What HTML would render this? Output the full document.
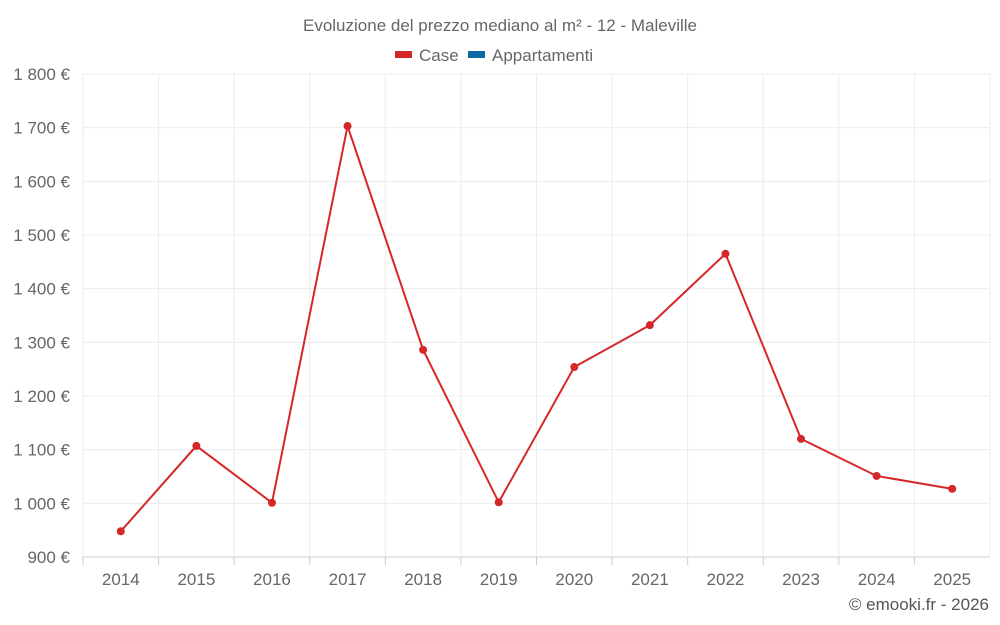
<!DOCTYPE html>
<html><head><meta charset="utf-8">
<style>
html,body{margin:0;padding:0;background:#fff;}
svg{display:block;font-family:"Liberation Sans",sans-serif;}
</style></head>
<body>
<svg id="chart" width="1000" height="625" viewBox="0 0 1000 625">
<text x="500" y="31" text-anchor="middle" font-size="17" fill="#666">Evoluzione del prezzo mediano al m² - 12 - Maleville</text>
<g>
<g><rect x="395" y="51" width="17" height="7" fill="#d62728"/><text x="419" y="61" font-size="17" fill="#666">Case</text></g>
<g><rect x="468" y="51" width="17" height="7" fill="#0a6aa1"/><text x="492" y="61" font-size="17" fill="#666">Appartamenti</text></g>
</g>
<g id="grid"></g>
<g id="yaxis"></g>
<g id="xaxis"></g>
<g id="series"></g>
<text x="989" y="610" text-anchor="end" font-size="17" fill="#555">© emooki.fr - 2026</text>
</svg>
<script>
const categories=["2014","2015","2016","2017","2018","2019","2020","2021","2022","2023","2024","2025"];
const caseValues=[948,1107,1001,1703,1286,1002,1254,1332,1465,1120,1051,1027];
const yTicks=[900,1000,1100,1200,1300,1400,1500,1600,1700,1800];
const yTickLabels=["900 €","1 000 €","1 100 €","1 200 €","1 300 €","1 400 €","1 500 €","1 600 €","1 700 €","1 800 €"];
const NS="http://www.w3.org/2000/svg";
const plotL=83,plotR=990,plotT=74,plotB=557,yMin=900,yMax=1800;
const band=(plotR-plotL)/categories.length;
function xs(i){return plotL+band*(i+0.5);}
function ys(v){return plotB-(v-yMin)/(yMax-yMin)*(plotB-plotT);}
function mk(t,a,p){const e=document.createElementNS(NS,t);for(const k in a)e.setAttribute(k,a[k]);p.appendChild(e);return e;}
const grid=document.getElementById('grid'),ya=document.getElementById('yaxis'),xa=document.getElementById('xaxis'),se=document.getElementById('series');
yTicks.forEach((v,i)=>{
  const l=mk('line',{x1:plotL,x2:plotR,y1:ys(v),y2:ys(v),stroke:i===0?'#ccc':'#ececec','stroke-width':1},grid);
  
  
  const t=mk('text',{x:70,y:ys(v)+6,'text-anchor':'end','font-size':17,fill:'#666'},ya);
  t.textContent=yTickLabels[i];
  
  
});
for(let i=0;i<=categories.length;i++){
  const x=plotL+band*i;
  const l=mk('line',{x1:x,x2:x,y1:plotT,y2:plotB,stroke:'#ececec','stroke-width':1},grid);
  
  
}
categories.forEach((c,i)=>{
  const tk=mk('line',{x1:plotL+band*i,x2:plotL+band*i,y1:plotB,y2:plotB+8,stroke:'#ccc'},xa);
  
  
  const t=mk('text',{x:xs(i),y:585,'text-anchor':'middle','font-size':17,fill:'#666'},xa);
  t.textContent=c;
  
  
});
const p=mk('polyline',{points:caseValues.map((v,i)=>xs(i)+','+ys(v)).join(' '),fill:'none',stroke:'#d62728','stroke-width':2},se);


caseValues.forEach((v,i)=>{
  const c=mk('circle',{cx:xs(i),cy:ys(v),r:4,fill:'#d62728'},se);
  
  
});
</script>
</body></html>
